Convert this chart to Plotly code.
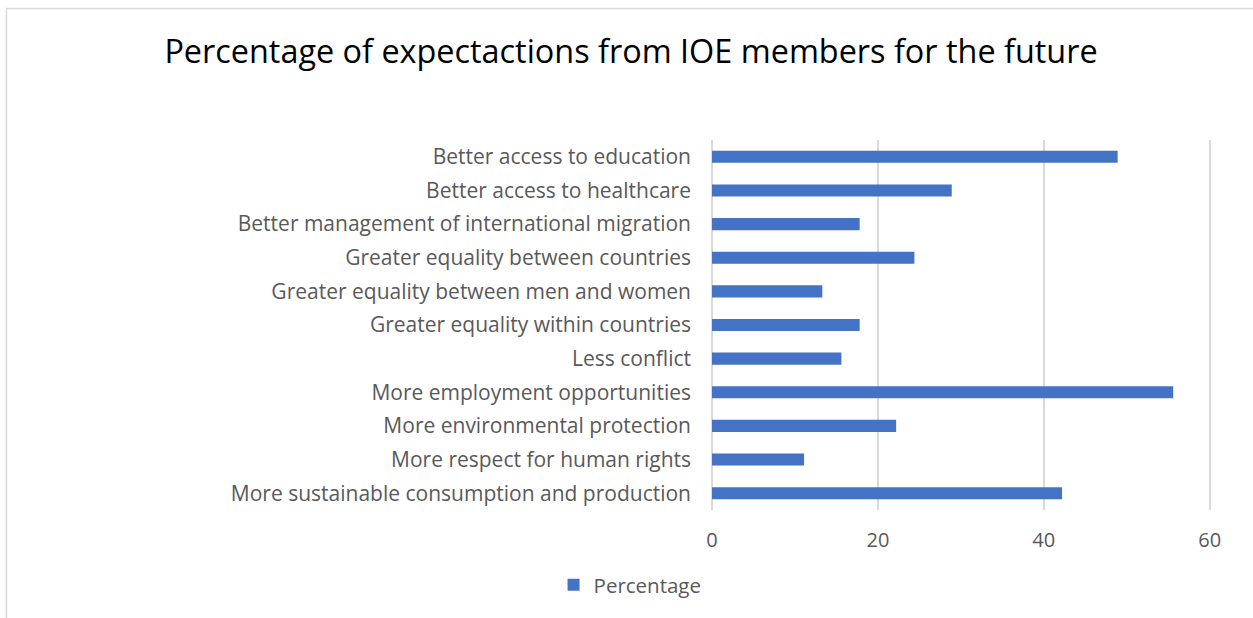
import plotly.graph_objects as go

categories = [
    "Better access to education",
    "Better access to healthcare",
    "Better management of international migration",
    "Greater equality between countries",
    "Greater equality between men and women",
    "Greater equality within countries",
    "Less conflict",
    "More employment opportunities",
    "More environmental protection",
    "More respect for human rights",
    "More sustainable consumption and production",
]
percentage = [48.9, 28.9, 17.8, 24.4, 13.3, 17.8, 15.6, 55.6, 22.2, 11.1, 42.2]
x_ticks = [0, 20, 40, 60]

W, H = 1253, 618
XMAX = 61
L, T, B = 712, 140, 108
pw = (1210 - L) * XMAX / 60
R = W - L - pw
ph = H - T - B

FONT = "Open Sans"

fig = go.Figure()
fig.add_trace(go.Bar(
    y=categories, x=percentage, orientation="h", name="Percentage",
    marker=dict(color="#4472C4", line=dict(width=0)),
))

def px_x(p):
    return (p - L) / pw

def px_y(p):
    return 1 - (p - T) / ph

fig.update_layout(
    width=W, height=H,
    margin=dict(l=L, r=R, t=T, b=B, autoexpand=False),
    paper_bgcolor="white", plot_bgcolor="white",
    bargap=0.64,
    showlegend=True,
    title=dict(text="Percentage of expectactions from IOE members for the future",
               x=631 / W, xref="container", xanchor="center", y=1 - 52 / H, yanchor="middle",
               font=dict(family=FONT, size=32.4, color="#000000")),
    font=dict(family=FONT, size=21, color="#595959"),
    xaxis=dict(range=[0, XMAX], tickvals=x_ticks, showgrid=True, gridcolor="#D9D9D9",
               gridwidth=1.5, zeroline=True, zerolinecolor="#D9D9D9", zerolinewidth=1.5,
               showline=False, ticks="",
               tickfont=dict(size=20, color="#595959"), ticklabelstandoff=16),
    yaxis=dict(autorange="reversed", showgrid=False, zeroline=False, showline=False,
               ticks="", tickfont=dict(size=21, color="#595959"), ticklabelstandoff=20),
    legend=dict(orientation="h", x=px_x(630), xanchor="center", y=px_y(585), yanchor="middle",
                font=dict(size=20.5, color="#595959"), itemwidth=30, bgcolor="rgba(0,0,0,0)"),
    shapes=[dict(type="rect", xref="paper", yref="paper",
                 x0=px_x(6), x1=px_x(1260), y0=px_y(8.5), y1=px_y(630),
                 line=dict(color="#D9D9D9", width=1.5), fillcolor="rgba(0,0,0,0)", layer="below")],
)

fig.write_html("out.html")
